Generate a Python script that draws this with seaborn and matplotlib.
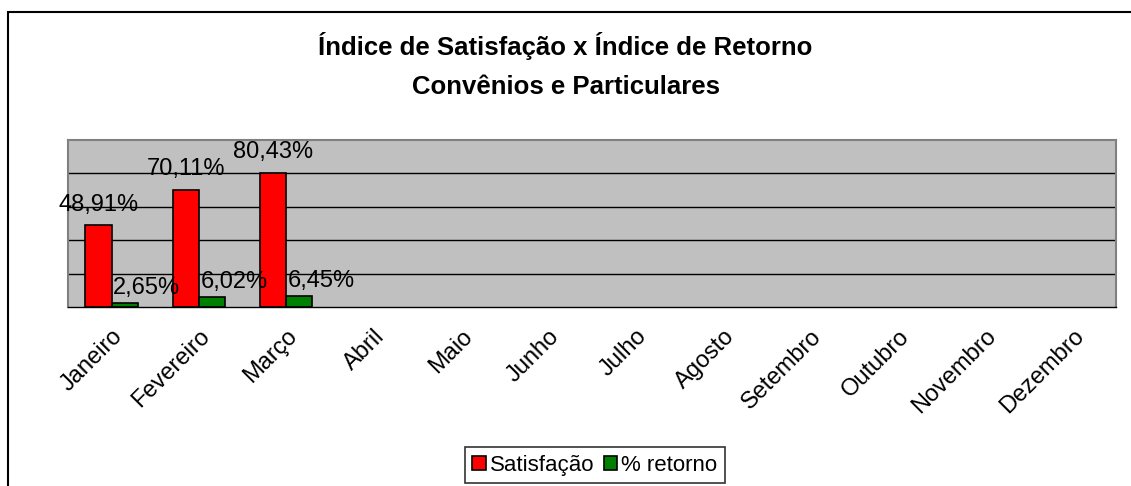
import numpy as np
import pandas as pd
import matplotlib
matplotlib.use("Agg")
import matplotlib.pyplot as plt
import seaborn as sns
from matplotlib.patches import Rectangle

# Dados do gráfico
meses = ["Janeiro", "Fevereiro", "Março", "Abril", "Maio", "Junho", "Julho",
         "Agosto", "Setembro", "Outubro", "Novembro", "Dezembro"]
satisfacao = [48.91, 70.11, 80.43]
retorno = [2.65, 6.02, 6.45]
series = ["Satisfação", "% retorno"]
cores = ["#FF0000", "#008000"]

df = pd.DataFrame({
    "mes": meses[:3] * 2,
    "serie": [series[0]] * 3 + [series[1]] * 3,
    "valor": satisfacao + retorno,
})

sns.set_style("white")
plt.rcParams["font.family"] = ["Liberation Sans", "DejaVu Sans"]
plt.rcParams["text.color"] = "black"
plt.rcParams["xtick.color"] = "black"
plt.rcParams["xtick.labelcolor"] = "black"

fig = plt.figure(figsize=(11.31, 4.86), dpi=100)
fig.patches.append(Rectangle((0.007, -0.1), 1.1, 1.075, transform=fig.transFigure,
                             fill=False, edgecolor="black", linewidth=1.5))

ax = fig.add_axes([0.060, 0.368, 0.927, 0.344])
sns.barplot(data=df, x="mes", y="valor", hue="serie", order=meses,
            hue_order=series, palette=cores, saturation=1, width=0.6,
            edgecolor="black", linewidth=1.2, ax=ax, legend=True)

ax.set_facecolor("#C0C0C0")
ax.set_ylim(0, 100)
ax.set_xlim(-0.5, 11.5)
ax.set_yticks([20, 40, 60, 80])
ax.set_yticklabels([])
ax.tick_params(axis="y", length=0)
ax.grid(axis="y", color="black", linewidth=1)
ax.set_axisbelow(True)
for s in ax.spines.values():
    s.set_color("#808080")
    s.set_linewidth(1.5)
ax.spines["bottom"].set_color("black")
ax.spines["bottom"].set_linewidth(1)

# ticks nas divisões, rótulos no centro
ax.set_xticks(np.arange(-0.5, 12, 1))
ax.set_xticklabels([])
ax.tick_params(axis="x", which="major", length=8, color="black", direction="out")
ax.set_xticks(np.arange(12), minor=True)
ax.set_xticklabels(meses, minor=True, rotation=45, ha="right",
                   rotation_mode="anchor", fontsize=17)
ax.tick_params(axis="x", which="minor", length=0, pad=13)
ax.set_xlabel("")
ax.set_ylabel("")

# rótulos de valor
fmt = lambda v: f"{v:.2f}%".replace(".", ",")
ax.bar_label(ax.containers[0], labels=[fmt(v) for v in ax.containers[0].datavalues],
             fontsize=17, padding=7)
for bar, v in zip(ax.containers[1], ax.containers[1].datavalues):
    ax.annotate(fmt(v), (bar.get_x() + bar.get_width() / 2, bar.get_height()),
                xytext=(16, 3), textcoords="offset points", ha="center",
                va="bottom", fontsize=17)

fig.text(0.5, 0.905, "Índice de Satisfação x Índice de Retorno", ha="center",
         va="center", fontsize=18.5, fontweight="bold")
fig.text(0.5, 0.822, "Convênios e Particulares", ha="center",
         va="center", fontsize=18.5, fontweight="bold")

ax.legend_.remove()
handles = [Rectangle((0, 0), 1, 1, facecolor=c, edgecolor="black", linewidth=1.2)
           for c in cores]
leg = fig.legend(handles, series, loc="center", bbox_to_anchor=(0.526, 0.043),
                 ncol=2, fontsize=16, frameon=True, fancybox=False,
                 handlelength=0.6, handleheight=0.6, handletextpad=0.2,
                 columnspacing=0.4, borderpad=0.35)
leg.get_frame().set_edgecolor("black")
leg.get_frame().set_linewidth(1.2)

fig.savefig("out.png", dpi=100)
